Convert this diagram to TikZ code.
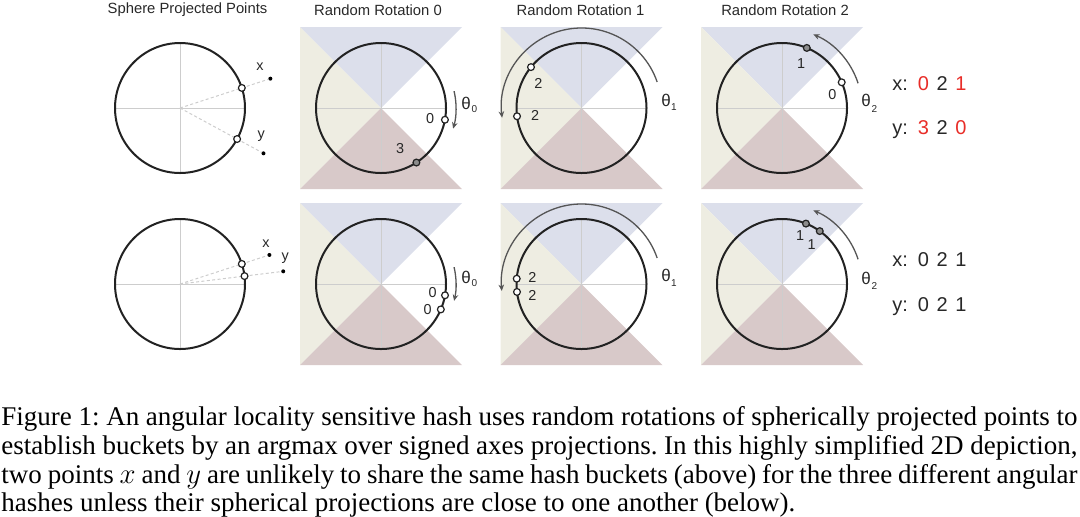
\documentclass[tikz,border=0pt]{standalone}
\usepackage{fontspec}
\setmainfont{Liberation Serif}
\setsansfont{Liberation Sans}
\usetikzlibrary{arrows.meta,calc}
\definecolor{cblue}{RGB}{220,223,235}
\definecolor{ccream}{RGB}{238,237,226}
\definecolor{cmauve}{RGB}{216,201,201}
\definecolor{cline}{RGB}{34,34,34}
\definecolor{cgrid}{RGB}{205,205,205}
\definecolor{carrow}{RGB}{85,85,85}
\definecolor{cred}{RGB}{232,45,40}
\definecolor{ctext}{RGB}{40,40,40}
\newcommand\bgsquare[1]{%
  \fill[cblue] ($(#1)+(-81,-81)$) -- ($(#1)+(81,-81)$) -- (#1) -- cycle;
  \fill[ccream] ($(#1)+(-81,-81)$) -- ($(#1)+(-81,81)$) -- (#1) -- cycle;
  \fill[cmauve] ($(#1)+(-81,81)$) -- ($(#1)+(81,81)$) -- (#1) -- cycle;}
\newcommand\sphere[1]{%
  \draw[gridln] ($(#1)+(-65,0)$) -- ($(#1)+(65,0)$);
  \draw[gridln] ($(#1)+(0,-65)$) -- ($(#1)+(0,65)$);
  \draw[ring] (#1) circle[radius=32.5pt];}
\begin{document}
\begin{tikzpicture}[x=0.5pt,y=-0.5pt,
  title/.style={font=\sffamily\fontsize{7.4}{8}\selectfont, text=ctext, inner sep=0},
  lbl/.style={font=\sffamily\fontsize{7.2}{8}\selectfont, text=ctext, inner sep=0},
  thlbl/.style={font=\sffamily\fontsize{8.5}{9}\selectfont, text=ctext, inner sep=0},
  sublbl/.style={font=\sffamily\fontsize{5}{6}\selectfont, text=ctext, inner sep=0},
  big/.style={font=\sffamily\fontsize{10}{12}\selectfont, text=ctext, inner sep=0, anchor=west},
  ring/.style={draw=cline, line width=1pt},
  gridln/.style={draw=cgrid, line width=0.4pt},
  projln/.style={draw=cgrid, line width=0.5pt, dash pattern=on 1.5pt off 1.2pt},
  pt/.style={circle, draw=cline, fill=white, line width=0.6pt, minimum size=3.4pt, inner sep=0},
  ptdark/.style={pt, fill=black!45},
  src/.style={circle, fill=black, minimum size=2pt, inner sep=0},
  rotarrow/.style={draw=carrow, line width=0.65pt, -{Stealth[length=3.2pt,width=2.8pt]}},
  ]
\useasboundingbox (0,0) rectangle (1080,516);
% centers
\coordinate (p1t) at (180,108);
\coordinate (r0t) at (381,108);
\coordinate (r1t) at (581.5,108);
\coordinate (r2t) at (782,108);
\coordinate (p1b) at (180,284);
\coordinate (r0b) at (381,284);
\coordinate (r1b) at (581.5,284);
\coordinate (r2b) at (782,284);
% titles
\node[title] (t1) at (187.5,10) {Sphere Projected Points};
\node[title] (t2) at (378,10) {Random Rotation 0};
\node[title] (t3) at (580.5,10) {Random Rotation 1};
\node[title] (t4) at (785,10) {Random Rotation 2};
% backgrounds
\bgsquare{r0t}\bgsquare{r1t}\bgsquare{r2t}
\bgsquare{r0b}\bgsquare{r1b}\bgsquare{r2b}
% spheres
\sphere{p1t}\sphere{r0t}\sphere{r1t}\sphere{r2t}
\sphere{p1b}\sphere{r0b}\sphere{r1b}\sphere{r2b}
% ---- panel 1 top
\node[src] (sxt) at ($(p1t)+(18:47.5pt)$) {};
\node[src] (syt) at ($(p1t)+(-28.5:47.5pt)$) {};
\draw[projln] (p1t) -- (sxt);
\draw[projln] (p1t) -- (syt);
\node[pt] (pxt) at ($(p1t)+(18:32.5pt)$) {};
\node[pt] (pyt) at ($(p1t)+(-28.5:32.5pt)$) {};
\node[lbl] (lxt) at (260,67) {x};
\node[lbl] (lyt) at (261.3,136) {y};
% ---- panel 1 bottom
\node[src] (sxb) at ($(p1b)+(18:47pt)$) {};
\node[src] (syb) at ($(p1b)+(7:52pt)$) {};
\draw[projln] (p1b) -- (sxb);
\draw[projln] (p1b) -- (syb);
\node[pt] (pxb) at ($(p1b)+(18:32.5pt)$) {};
\node[pt] (pyb) at ($(p1b)+(7:32.5pt)$) {};
\node[lbl] (lxb) at (266,244) {x};
\node[lbl] (lyb) at (285.3,258) {y};
% ---- rotation 0 top
\draw[rotarrow] ($(r0t)+(13:37.5pt)$) arc[start angle=13, end angle=-16, radius=37.5pt];
\node[pt] (a0x) at ($(r0t)+(-10.4:32.5pt)$) {};
\node[ptdark] (a0y) at ($(r0t)+(-57:32.5pt)$) {};
\node[lbl] (n0x) at (430,118.3) {0};
\node[lbl] (n0y) at (400,148.3) {3};
\node[thlbl] (th0t) at (466,103) {θ};
\node[sublbl] (s0t) at (474.5,109.5) {0};
% ---- rotation 1 top
\draw[rotarrow] ($(r1t)+(19:40pt)$) arc[start angle=19, end angle=187, radius=40pt];
\node[pt] (a1x) at ($(r1t)+(141:32.5pt)$) {};
\node[pt] (a1y) at ($(r1t)+(187.3:32.5pt)$) {};
\node[lbl] (n1x) at (538.3,83.3) {2};
\node[lbl] (n1y) at (535,115.7) {2};
\node[thlbl] (th1t) at (666,100) {θ};
\node[sublbl] (s1t) at (674,107.5) {1};
% ---- rotation 2 top
\draw[rotarrow] ($(r2t)+(18:40pt)$) arc[start angle=18, end angle=67, radius=40pt];
\node[ptdark] (a2x) at ($(r2t)+(67.6:32.5pt)$) {};
\node[pt] (a2y) at ($(r2t)+(23.3:32.5pt)$) {};
\node[lbl] (n2x) at (801,63.3) {1};
\node[lbl] (n2y) at (832.3,95) {0};
\node[thlbl] (th2t) at (866,100.5) {θ};
\node[sublbl] (s2t) at (874.5,108.5) {2};
% ---- rotation 0 bottom
\draw[rotarrow] ($(r0b)+(13:37.5pt)$) arc[start angle=13, end angle=-13, radius=37.5pt];
\node[pt] (b0x) at ($(r0b)+(-10:32.5pt)$) {};
\node[pt] (b0y) at ($(r0b)+(-23:32.5pt)$) {};
\node[lbl] (m0x) at (432.7,292.7) {0};
\node[lbl] (m0y) at (427.7,309.3) {0};
\node[thlbl] (th0b) at (466,277) {θ};
\node[sublbl] (s0b) at (474.5,283.5) {0};
% ---- rotation 1 bottom
\draw[rotarrow] ($(r1b)+(19:40pt)$) arc[start angle=19, end angle=185, radius=40pt];
\node[pt] (b1x) at ($(r1b)+(175.3:32.5pt)$) {};
\node[pt] (b1y) at ($(r1b)+(187:32.5pt)$) {};
\node[lbl] (m1x) at (532.3,277.7) {2};
\node[lbl] (m1y) at (532.3,295.7) {2};
\node[thlbl] (th1b) at (666,275) {θ};
\node[sublbl] (s1b) at (674,283) {1};
% ---- rotation 2 bottom
\draw[rotarrow] ($(r2b)+(18:40pt)$) arc[start angle=18, end angle=67, radius=40pt];
\node[ptdark] (b2x) at ($(r2b)+(68.4:32.5pt)$) {};
\node[ptdark] (b2y) at ($(r2b)+(54.5:32.5pt)$) {};
\node[lbl] (m2x) at (800,235.7) {1};
\node[lbl] (m2y) at (811.7,244.3) {1};
\node[thlbl] (th2b) at (866,278) {θ};
\node[sublbl] (s2b) at (874.5,286) {2};
% ---- right side hash codes
\node[big] (hxt) at (892,83.3) {x:\hspace{5pt}\textcolor{cred}{0}\hspace{1pt} 2\hspace{1pt} \textcolor{cred}{1}};
\node[big] (hyt) at (892,130) {y:\hspace{5pt}\textcolor{cred}{3}\hspace{1pt} 2\hspace{1pt} \textcolor{cred}{0}};
\node[big] (hxb) at (892,260) {x:\hspace{5pt}0\hspace{1pt} 2\hspace{1pt} 1};
\node[big] (hyb) at (892,306.7) {y:\hspace{5pt}0\hspace{1pt} 2\hspace{1pt} 1};
% ---- caption
\node[anchor=north west, inner sep=0, text width=538pt, align=justify,
  font=\fontsize{13.5}{14.4}\selectfont\frenchspacing] (cap) at (1,406) {Figure 1: An angular locality sensitive hash uses random rotations of spherically projected points to\linebreak
establish buckets by an argmax over signed axes projections. In this highly simplified 2D depiction,\linebreak
two points $x$ and $y$ are unlikely to share the same hash buckets (above) for the three different angular\linebreak
hashes unless their spherical projections are close to one another (below).};
\end{tikzpicture}
\end{document}
